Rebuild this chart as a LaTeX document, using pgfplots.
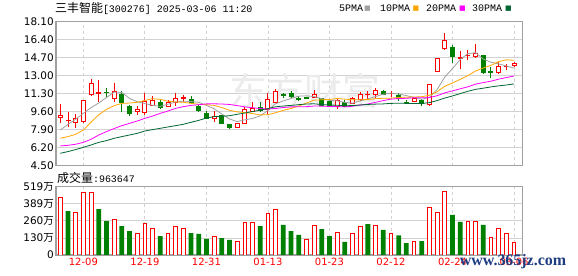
\documentclass[border=0pt]{standalone}
\usepackage{pgfplots}
\pgfplotsset{compat=1.18}
\usepgfplotslibrary{statistics}
\usepackage{pgfplotstable}
\usepackage{fontspec}
\setmainfont{DejaVu Sans}
\newfontfamily\cjk{Noto Sans CJK SC}
\newfontfamily\mono{Liberation Mono}
\definecolor{kred}{RGB}{255,0,0}
\definecolor{kgreen}{RGB}{0,128,0}
\definecolor{magray}{RGB}{160,160,160}
\definecolor{maorange}{RGB}{255,165,0}
\definecolor{mamag}{RGB}{255,0,255}
\definecolor{madkg}{RGB}{0,102,51}
\definecolor{framegray}{RGB}{160,160,160}
\definecolor{gridgray}{RGB}{210,210,210}
\definecolor{wmblue}{RGB}{30,60,130}

\newcommand{\up}[5]{\addplot[draw=kred, fill=white, line width=0.9bp, boxplot/draw direction=y, boxplot prepared={draw position=#1, lower whisker=#4, lower quartile=#2, median=#2, upper quartile=#5, upper whisker=#3, box extend=0.52, whisker extend=0}] coordinates {};}
\newcommand{\dn}[5]{\addplot[draw=kgreen, fill=kgreen, line width=0.9bp, boxplot/draw direction=y, boxplot prepared={draw position=#1, lower whisker=#4, lower quartile=#5, median=#5, upper quartile=#2, upper whisker=#3, box extend=0.52, whisker extend=0}] coordinates {};}

\pgfplotstableread{
i ma5 ma10 ma20 ma30
0 7.86 7.08 6.36 5.67
1 8.40 7.24 6.42 5.83
2 8.87 7.46 6.52 6.02
3 9.43 7.86 6.70 6.23
4 9.97 8.60 6.99 6.45
5 10.41 9.30 7.39 6.70
6 10.92 9.80 7.71 6.86
7 11.43 10.15 8.00 7.08
8 11.40 10.37 8.27 7.24
9 10.84 10.40 8.49 7.39
10 10.52 10.47 8.71 7.55
11 10.35 10.64 8.96 7.77
12 10.19 10.81 9.18 7.90
13 10.09 10.75 9.43 8.02
14 10.29 10.57 9.65 8.15
15 10.50 10.51 9.90 8.27
16 10.58 10.47 10.06 8.40
17 10.54 10.37 10.18 8.59
18 10.48 10.29 10.25 8.77
19 10.18 10.24 10.32 8.99
20 9.86 10.18 10.33 9.12
21 9.37 9.98 10.31 9.15
22 8.90 9.72 10.27 9.21
23 8.65 9.57 10.16 9.34
24 8.82 9.50 10.04 9.46
25 8.95 9.41 9.96 9.60
26 9.19 9.28 9.88 9.73
27 9.71 9.31 9.84 9.88
28 10.33 9.49 9.89 10.05
29 10.60 9.71 9.98 10.12
30 10.83 9.89 10.04 10.18
31 11.05 10.12 10.05 10.25
32 11.08 10.40 10.06 10.31
33 11.01 10.67 10.12 10.33
34 10.81 10.71 10.11 10.26
35 10.65 10.74 10.08 10.22
36 10.61 10.83 10.06 10.19
37 10.46 10.77 10.04 10.15
38 10.39 10.70 10.10 10.16
39 10.60 10.71 10.21 10.22
40 10.80 10.73 10.31 10.27
41 11.01 10.81 10.47 10.30
42 11.24 10.85 10.63 10.32
43 11.33 10.86 10.77 10.37
44 11.25 10.93 10.82 10.38
45 11.10 10.95 10.85 10.37
46 10.93 10.97 10.90 10.36
47 10.76 11.00 10.89 10.36
48 10.93 11.13 10.92 10.44
49 11.68 11.47 11.09 10.63
50 12.85 11.98 11.36 10.87
51 13.64 12.29 11.55 11.07
52 14.50 12.63 11.74 11.29
53 15.05 12.99 11.93 11.51
54 15.15 13.42 12.18 11.69
55 14.54 13.70 12.33 11.80
56 14.25 13.95 12.46 11.92
57 14.09 14.30 12.65 12.02
58 13.89 14.47 12.80 12.10
59 13.70 14.43 12.95 12.20
}\matab

\begin{document}
\begin{tikzpicture}
\path[use as bounding box, fill=white] (0bp,0bp) rectangle (578bp,276bp);

% title and legend
\node[anchor=west, inner sep=0pt] at (55bp,267.7bp) {{\cjk\fontsize{12}{12}\selectfont 三丰智能}{\mono\fontsize{10}{10}\selectfont [300276] 2025-03-06 11:20}};
\node[anchor=west, inner sep=0pt, font=\mono\fontsize{10}{10}\selectfont] at (339bp,267.5bp) {5PMA};
\node[inner sep=0pt, text=magray, font=\fontsize{7}{7}\selectfont] at (367.5bp,267.5bp) {■};
\node[anchor=west, inner sep=0pt, font=\mono\fontsize{10}{10}\selectfont] at (380bp,267.5bp) {10PMA};
\node[inner sep=0pt, text=maorange, font=\fontsize{7}{7}\selectfont] at (415.8bp,267.5bp) {■};
\node[anchor=west, inner sep=0pt, font=\mono\fontsize{10}{10}\selectfont] at (426bp,267.5bp) {20PMA};
\node[inner sep=0pt, text=mamag, font=\fontsize{7}{7}\selectfont] at (462.5bp,267.5bp) {■};
\node[anchor=west, inner sep=0pt, font=\mono\fontsize{10}{10}\selectfont] at (472bp,267.5bp) {30PMA};
\node[inner sep=0pt, text=madkg, font=\fontsize{7}{7}\selectfont] at (508.5bp,267.5bp) {■};

% price axis
\begin{axis}[
  at={(56bp,110.3bp)}, anchor=south west,
  width=466.3bp, height=144.4bp, scale only axis,
  xmin=-0.56, xmax=60.08, ymin=4.5, ymax=18.1,
  xtick={3,11,19,27,35,43,51,59}, xticklabels={},
  ytick={4.5,6.2,7.9,9.6,11.3,13,14.7,16.4,18.1},
  yticklabels={4.50,6.20,7.90,9.60,11.30,13.00,14.70,16.40,18.10},
  major tick length=0pt,
  xmajorgrids, ymajorgrids,
  x grid style={draw=gridgray, dash pattern=on 3bp off 3bp, line width=0.8bp},
  y grid style={draw=gridgray, line width=0.8bp},
  axis line style={draw=framegray, line width=1.2bp},
  yticklabel style={font=\fontsize{10.5}{12}\selectfont, text=black, inner sep=2bp},
]
\node[text=black!8, font=\cjk\fontsize{38}{38}\selectfont] at (axis cs:31.8,11.5) {东方财富};
\up{0}{9.02}{10.31}{8.55}{9.21}
\up{1}{8.78}{9.60}{8.11}{8.80}
\up{2}{8.58}{9.34}{8.08}{8.93}
\up{3}{8.65}{10.70}{8.60}{10.65}
\up{4}{11.24}{12.67}{11.02}{12.26}
\up{5}{11.30}{12.57}{10.46}{11.40}
\dn{6}{11.42}{11.78}{10.85}{11.36}
\up{7}{10.81}{12.29}{10.50}{11.50}
\dn{8}{11.19}{11.53}{9.55}{10.50}
\dn{9}{10.09}{10.25}{9.18}{9.43}
\up{10}{9.57}{10.12}{9.27}{9.80}
\up{11}{9.49}{11.34}{9.27}{10.53}
\up{12}{10.18}{11.06}{10.12}{10.68}
\dn{13}{10.50}{10.68}{9.81}{9.99}
\up{14}{10.12}{10.65}{9.99}{10.47}
\up{15}{10.43}{11.30}{10.12}{10.81}
\up{16}{10.82}{11.12}{10.50}{10.94}
\dn{17}{10.78}{11.03}{10.37}{10.50}
\dn{18}{10.12}{10.25}{9.62}{9.68}
\dn{19}{9.43}{9.65}{8.93}{8.99}
\up{20}{8.93}{9.62}{8.65}{9.18}
\dn{21}{9.21}{9.27}{8.46}{8.52}
\dn{22}{8.39}{8.46}{7.98}{8.11}
\up{23}{8.11}{8.46}{8.11}{8.46}
\up{24}{8.49}{10.06}{8.43}{9.81}
\up{25}{9.62}{10.46}{9.52}{9.87}
\dn{26}{9.96}{10.46}{9.59}{9.68}
\up{27}{9.81}{11.34}{9.37}{10.75}
\up{28}{10.50}{11.69}{10.37}{11.53}
\dn{29}{11.20}{11.34}{10.90}{11.15}
\dn{30}{11.30}{11.53}{10.84}{11.05}
\dn{31}{10.84}{11.03}{10.59}{10.78}
\dn{32}{10.90}{11.00}{10.75}{10.87}
\up{33}{10.94}{11.60}{10.90}{11.19}
\dn{34}{10.81}{10.90}{10.12}{10.18}
\dn{35}{10.56}{10.78}{10.12}{10.21}
\up{36}{10.09}{10.81}{9.87}{10.62}
\dn{37}{10.46}{10.65}{9.99}{10.09}
\up{38}{10.40}{11.00}{10.31}{10.84}
\up{39}{10.72}{11.47}{10.65}{11.25}
\up{40}{11.20}{11.53}{10.75}{11.22}
\up{41}{11.22}{11.78}{10.90}{11.63}
\dn{42}{11.47}{11.63}{11.19}{11.25}
\up{43}{11.28}{11.57}{10.94}{11.30}
\dn{44}{11.15}{11.30}{10.62}{10.87}
\dn{45}{10.47}{10.72}{10.31}{10.43}
\up{46}{10.56}{10.81}{10.56}{10.81}
\dn{47}{10.68}{10.75}{10.15}{10.37}
\up{48}{10.25}{12.16}{10.15}{12.16}
\up{49}{13.42}{14.68}{13.32}{14.61}
\up{50}{15.52}{16.97}{15.40}{16.31}
\dn{51}{15.68}{15.87}{14.14}{14.77}
\up{52}{14.63}{15.27}{13.64}{14.65}
\up{53}{14.85}{15.43}{14.45}{14.90}
\up{54}{14.77}{15.96}{14.68}{15.11}
\dn{55}{14.90}{14.96}{13.14}{13.26}
\dn{56}{13.35}{13.76}{12.79}{13.32}
\up{57}{13.26}{14.30}{13.20}{13.86}
\up{58}{13.85}{14.08}{13.51}{13.89}
\up{59}{13.92}{14.27}{13.76}{14.17}
\addplot[draw=magray, line width=0.8bp, mark=none] table[x=i, y=ma5] {\matab};
\addplot[draw=maorange, line width=0.8bp, mark=none] table[x=i, y=ma10] {\matab};
\addplot[draw=mamag, line width=0.8bp, mark=none] table[x=i, y=ma20] {\matab};
\addplot[draw=madkg, line width=0.8bp, mark=none] table[x=i, y=ma30] {\matab};
\end{axis}

\node[anchor=west, inner sep=0pt] at (57bp,98bp) {{\cjk\fontsize{12}{12}\selectfont 成交量}{\mono\fontsize{10}{10}\selectfont :963647}};

% volume axis
\begin{axis}[
  at={(56bp,21bp)}, anchor=south west,
  width=466.3bp, height=68.3bp, scale only axis,
  xmin=-0.56, xmax=60.08, ymin=0, ymax=519,
  xtick={3,11,19,27,35,43,51,59},
  xticklabels={12-09,12-19,12-31,01-13,01-23,02-12,02-24,03-06},
  ytick={0,129.75,259.5,389.25,519},
  yticklabels={0,130{\cjk 万},260{\cjk 万},389{\cjk 万},519{\cjk 万}},
  major tick length=0pt,
  xmajorgrids, ymajorgrids,
  x grid style={draw=gridgray, dash pattern=on 3bp off 3bp, line width=0.8bp},
  y grid style={draw=gridgray, line width=0.8bp},
  axis line style={draw=framegray, line width=1.2bp},
  yticklabel style={font=\fontsize{10.5}{12}\selectfont, text=black, inner sep=2bp},
  xticklabel style={font=\fontsize{10}{12}\selectfont, text=kred, inner sep=3bp},
]
\addplot[ybar, bar shift=0pt, bar width=3.8bp, draw=kred, fill=white, line width=0.9bp] coordinates {(0,440) (2,324) (3,476) (4,476) (7,271) (10,165) (11,241) (12,203) (14,165) (15,218) (16,203) (20,142) (23,104) (24,248) (25,248) (27,317) (28,347) (32,119) (33,225) (36,172) (38,165) (39,218) (41,225) (43,165) (46,104) (48,362) (49,324) (50,484) (53,256) (54,256) (56,134) (57,203) (58,165) (59,96.4)};
\addplot[ybar, bar shift=0pt, bar width=4.8bp, draw=none, fill=kgreen] coordinates {(1,334) (5,349) (6,258) (8,220) (9,182) (13,144) (17,167) (18,160) (19,122) (21,129) (22,114) (26,220) (29,228) (30,182) (31,152) (34,197) (35,144) (37,99) (40,235) (42,190) (44,149) (45,91) (47,106) (51,304) (52,251) (55,228)};
\end{axis}

\node[text=wmblue, font=\fontspec{Liberation Serif}\bfseries\fontsize{16}{16}\selectfont, inner sep=0pt] at (513bp,14bp) {www.365jz.com};
\end{tikzpicture}
\end{document}
